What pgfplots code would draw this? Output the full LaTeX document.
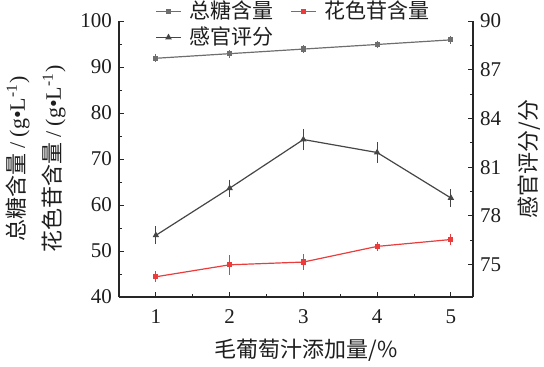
\documentclass[border=0pt]{standalone}
\usepackage{fontspec}
\setmainfont{Liberation Serif}
\newfontfamily\tnr{Liberation Serif}
\newfontfamily\cjk{Noto Sans CJK SC}
\usepackage{pgfplots}
\pgfplotsset{compat=1.18}
\definecolor{sug}{RGB}{110,110,110}
\definecolor{sen}{RGB}{70,70,70}
\definecolor{ant}{RGB}{235,60,60}
\definecolor{txt}{RGB}{30,30,30}
\begin{document}
\begin{tikzpicture}
\useasboundingbox (-59.5pt,-34.5pt) rectangle (212.5pt,148.5pt);
\pgfplotsset{
  common/.style={
    at={(0pt,0pt)}, anchor=south west,
    scale only axis, width=177pt, height=138pt,
    xmin=0.5, xmax=5.3,
    tick align=inside,
    major tick length=2.5pt, minor tick length=1.5pt,
    every tick/.style={black!85, line width=0.5pt},
    axis line style={black!85, line width=0.6pt, -},
    /pgf/number format/assume math mode=true,
    tick label style={font=\tnr\fontsize{10.5}{12}\selectfont, text=txt},
    label style={font=\cjk\fontsize{11}{18}\selectfont, text=txt},
    legend image code/.code={\draw[mark repeat=2,mark phase=2,##1] plot coordinates {(0pt,0pt) (6.25pt,0pt) (12.5pt,0pt)};},
  }
}
\begin{axis}[common,
  axis x line*=bottom, axis y line*=left,
  ymin=40, ymax=100, ytick={40,50,...,100}, minor y tick num=1,
  xtick={1,2,3,4,5}, minor x tick num=1,
  xticklabel style={yshift=-3pt},
  xlabel={毛葡萄汁添加量/\%},
  xlabel style={at={(axis description cs:0.528,-0.192)}, anchor=center},
  ylabel={总糖含量 {\tnr / (g•L\textsuperscript{-1})}\\花色苷含量 {\tnr / (g•L\textsuperscript{-1})}},
  ylabel style={align=center, at={(axis description cs:-0.2345,0.5)}, anchor=center, rotate=0},
]
\addplot[color=sug, line width=0.6pt, mark=square*, mark size=1pt,
  error bars/.cd, y dir=both, y explicit,
  error bar style={line width=0.4pt, sug},
  error mark options={line width=0.4pt, mark size=1.5pt, sug}]
  coordinates {(1,91.9) +- (0,0.2) (2,92.9) +- (0,0.2) (3,93.9) +- (0,0.2) (4,94.9) +- (0,0.2) (5,95.9) +- (0,0.2)};
\addplot[color=ant, line width=0.6pt, mark=square*, mark size=1pt,
  error bars/.cd, y dir=both, y explicit,
  error bar style={line width=0.4pt, ant},
  error mark options={line width=0.4pt, mark size=1.5pt, ant}]
  coordinates {(1,44.4) +- (0,0.5) (2,47.0) +- (0,1.5) (3,47.6) +- (0,1.0) (4,51.0) +- (0,0.4) (5,52.5) +- (0,0.5)};
\end{axis}
\begin{axis}[common,
  axis x line=none, axis y line*=right,
  ymin=73, ymax=90, ytick={75,78,...,90}, minor y tick num=1,
  ylabel={感官评分/分},
  ylabel style={at={(axis description cs:1.158,0.5)}, anchor=center, rotate=0},
  legend columns=2,
  legend style={at={(0,1)}, anchor=north west, xshift=18pt, yshift=10.5pt,
    draw=none, fill=none, inner sep=0pt, row sep=2pt,
    nodes={font=\cjk\fontsize{10.5}{12}\selectfont, text=txt, inner xsep=0pt, inner ysep=0pt, text height=9pt, text depth=2pt},
    /tikz/every odd column/.append style={column sep=4pt},
    /tikz/every even column/.append style={column sep=8.5pt}},
]
\addlegendimage{color=sug, line width=0.6pt, mark=square*, mark size=1pt}
\addlegendentry{总糖含量}
\addlegendimage{color=ant, line width=0.6pt, mark=square*, mark size=1pt}
\addlegendentry{花色苷含量}
\addplot[color=sen, line width=0.6pt, mark=triangle*, mark size=1.3pt,
  error bars/.cd, y dir=both, y explicit,
  error bar style={line width=0.4pt, sen},
  error mark options={line width=0.4pt, mark size=1.5pt, sen}]
  coordinates {(1,76.8) +- (0,0.36) (2,79.7) +- (0,0.34) (3,82.7) +- (0,0.47) (4,81.9) +- (0,0.44) (5,79.1) +- (0,0.35)};
\addlegendentry{感官评分}
\end{axis}
\end{tikzpicture}
\end{document}
